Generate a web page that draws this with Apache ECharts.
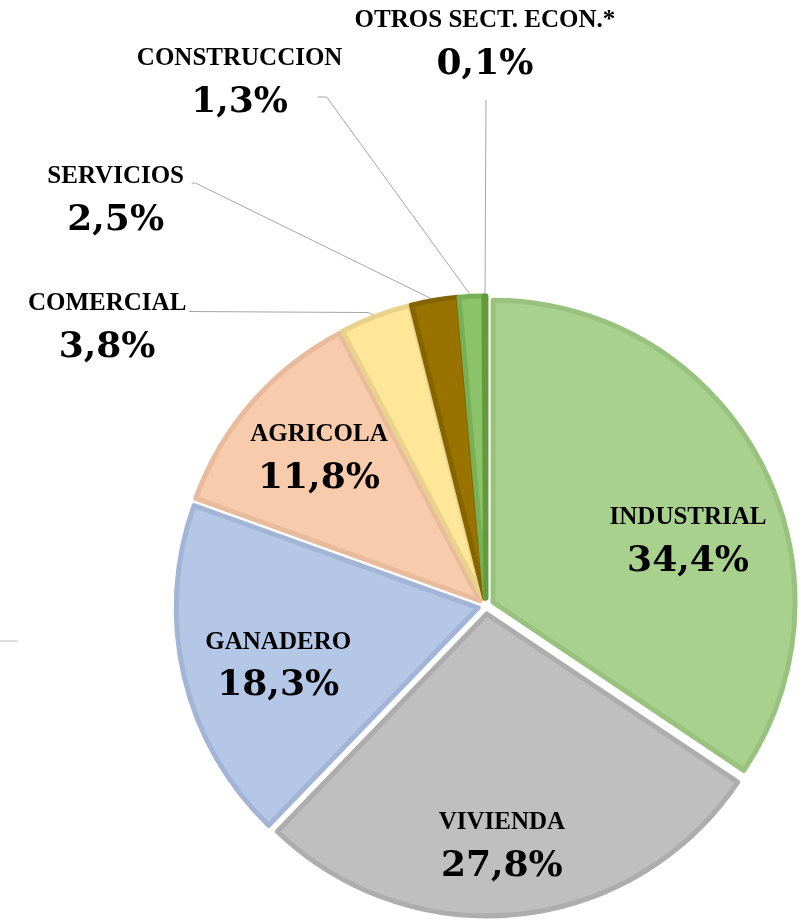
<!DOCTYPE html>
<html>
	<head>
		<meta charset="utf-8">
		<title>ECharts</title>
		<style>
		html,body { height:100%; width:100%; margin:0; padding:0; background:#fff; }
		</style>
		<script src="https://cdn.jsdelivr.net/npm/echarts@6/dist/echarts.min.js"></script>
	</head>
	<body>
		<div id="pie" style="height:923px;width:810px;"></div>
		<script type="text/javascript">
			// datos
			var sectores = ['INDUSTRIAL', 'VIVIENDA', 'GANADERO', 'AGRICOLA', 'COMERCIAL', 'SERVICIOS', 'CONSTRUCCION', 'OTROS SECT. ECON.*'];
			var porcentajes = [34.4, 27.8, 18.3, 11.8, 3.8, 2.5, 1.3, 0.1];

			// colores (relleno / borde)
			var colores = ['#a9d18e', '#bfbfbf', '#b4c7e7', '#f8cbad', '#ffe699', '#997300', '#8cc36a', '#70ad47'];
			var bordes = ['#98c27e', '#adadad', '#a2b5d6', '#e8bb9d', '#e9d38c', '#856400', '#78b058', '#639a3e'];

			// posicion de etiquetas (centro del bloque) y lineas guia
			var posEtiqueta = [[681, 546], [501, 839], [286, 665], [325, 465], [110, 336], [117, 209], [240, 91], [485, 53]];
			var guia = {
				4: [[371, 320], [192, 319]],
				5: [[197, 191], [193, 191]],
				6: [[327, 105], [318, 105]],
				7: [[486, 108], [486, 108]]
			};
			var fuera = [false, false, false, false, true, true, true, true];

			function pct(v) {
				return v.toFixed(1).replace('.', ',') + '%';
			}

			var myChart = echarts.init(document.getElementById('pie'));

			var data = sectores.map(function (s, i) {
				return {
					name: s,
					value: porcentajes[i],
					selected: true,
					itemStyle: { color: colores[i], borderColor: bordes[i] },
					label: { position: fuera[i] ? 'outside' : 'inside' },
					labelLine: { show: fuera[i] }
				};
			});

			var option = {
				animation: false,
				graphic: [{
					type: 'line',
					shape: { x1: 0, y1: 641, x2: 18, y2: 641 },
					style: { stroke: '#bfbfbf', lineWidth: 1 }
				}],
				series: [{
					type: 'pie',
					center: [486, 606],
					radius: 302,
					startAngle: 90,
					clockwise: true,
					selectedMode: 'multiple',
					selectedOffset: 8,
					avoidLabelOverlap: false,
					silent: true,
					itemStyle: { borderWidth: 5 },
					label: {
						color: '#000',
						align: 'center',
						formatter: function (p) {
							return '{n|' + p.name + '}\n{v|' + pct(p.value) + '}';
						},
						rich: {
							n: { fontFamily: 'Liberation Serif', fontWeight: 'bold', fontSize: 25, lineHeight: 44, color: '#000', align: 'center' },
							v: { fontFamily: 'DejaVu Serif', fontWeight: 'bold', fontSize: 36, lineHeight: 44, color: '#000', align: 'center' }
						}
					},
					labelLine: {
						lineStyle: { color: '#a6a6a6', width: 1 }
					},
					labelLayout: function (p) {
						var i = p.dataIndex;
						var r = p.labelRect;
						var res = {
							dx: posEtiqueta[i][0] - (r.x + r.width / 2),
							dy: posEtiqueta[i][1] - (r.y + r.height / 2)
						};
						if (guia[i] && p.labelLinePoints) {
							var p0 = p.labelLinePoints[0];
							res.labelLinePoints = [p0, guia[i][0], guia[i][1]];
						}
						return res;
					},
					data: data
				}]
			};
			myChart.setOption(option);
		</script>
	</body>
</html>
